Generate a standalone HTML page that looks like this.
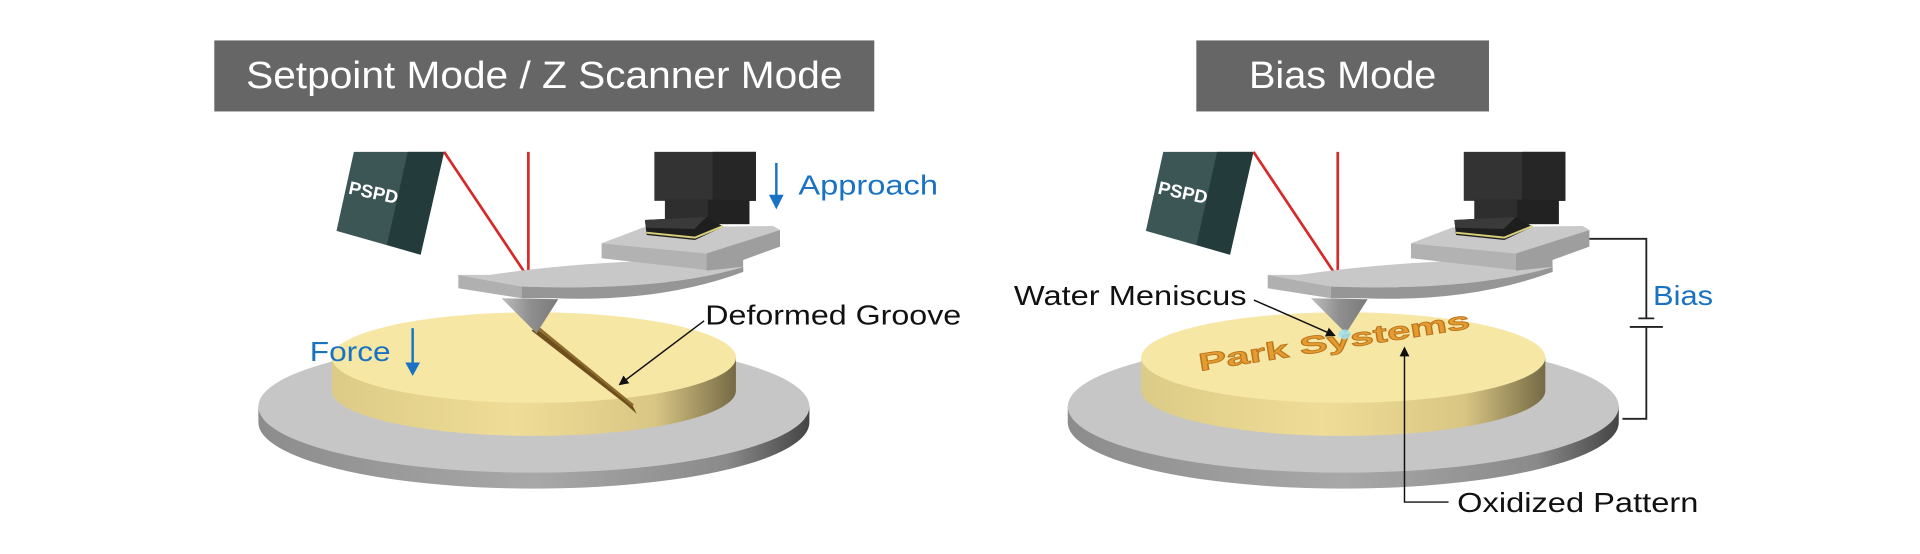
<!DOCTYPE html>
<html><head><meta charset="utf-8"><style>
html,body{margin:0;padding:0;background:#fff;}
svg{display:block;}
text{font-family:"Liberation Sans",sans-serif;}
</style></head><body>
<svg width="1920" height="554" viewBox="0 0 1568 452.4" xmlns="http://www.w3.org/2000/svg">
<defs>
<linearGradient id="ys" x1="0" x2="1" y1="0" y2="0">
<stop offset="0" stop-color="#dccb86"/><stop offset="0.45" stop-color="#efdd97"/><stop offset="0.8" stop-color="#d9c684"/><stop offset="1" stop-color="#756a45"/></linearGradient>
<linearGradient id="gs" x1="0" x2="1" y1="0" y2="0">
<stop offset="0" stop-color="#8c8c8c"/><stop offset="0.5" stop-color="#a8a8a8"/><stop offset="0.85" stop-color="#8a8a8a"/><stop offset="1" stop-color="#444"/></linearGradient>
<linearGradient id="tip" x1="0" x2="1"><stop offset="0" stop-color="#bdbdbd"/><stop offset="0.5" stop-color="#8f8f8f"/><stop offset="1" stop-color="#7a7a7a"/></linearGradient>
<marker id="ah" markerWidth="8" markerHeight="8" refX="7" refY="4" orient="auto" markerUnits="userSpaceOnUse"><path d="M0,0 L8,4 L0,8 Z" fill="#111"/></marker>
<g id="stage">
<path d="M211,332 L211,345 A225,54 0 0 0 661,345 L661,332 Z" fill="url(#gs)"/>
<ellipse cx="436" cy="332" rx="225" ry="54" fill="#c6c6c6"/>
<path d="M271,292 L271,319 A165,37 0 0 0 601,319 L601,292 Z" fill="url(#ys)"/>
<ellipse cx="436" cy="292" rx="165" ry="37" fill="#f6e7a5"/>
</g>
<g id="probe">
<polygon points="289,124 362.7,124 343.5,208 274.8,188.5" fill="#3c5555"/>
<polygon points="333,124 362.7,124 343.5,208 316,200" fill="#233b3b"/>
<text x="0" y="0" transform="translate(284,158) rotate(12)" font-size="15" font-weight="bold" fill="#fff">PSPD</text>
<line x1="362.7" y1="124" x2="431.5" y2="227" stroke="#d62a2a" stroke-width="2.2"/>
<line x1="431.5" y1="124" x2="431.5" y2="227" stroke="#d62a2a" stroke-width="2.2"/>
<!-- cantilever arm -->
<path d="M374.3,224.5 L426,234 Q540,238 607,218 L606,212 Q490,211 400,224.5 Z" fill="#c8c8c8"/>
<path d="M374.3,224.5 L426,234 L426,243.6 L374.3,235.4 Z" fill="#b0b0b0"/>
<path d="M426,234 Q540,238 607,218 L607,222 Q540,247 452,243.6 L426,243.6 Z" fill="#969696"/>
<path d="M409.6,243.6 L455.9,244.4 L438.2,272.1 Z" fill="url(#tip)"/>
<!-- holder plate -->
<path d="M491.3,198.6 L525.4,185.7 L631.5,184.6 L637,187.8 L577,206.9 Z" fill="#c9c9c9"/>
<path d="M491.3,198.6 L577,206.9 L577,220.5 L491.3,210.9 Z" fill="#b2b2b2"/>
<path d="M577,206.9 L637,187.8 L637,201.4 L606.9,212.3 L606.9,217.8 L577,221 Z" fill="#9e9e9e"/>
<!-- holder -->
<rect x="534.4" y="124" width="83" height="40" fill="#333"/>
<rect x="582" y="124" width="35.4" height="40" fill="#262626"/>
<rect x="543" y="163" width="69" height="20" fill="#2e2e2e"/>
<rect x="578" y="163" width="34" height="20" fill="#222"/>
<path d="M526.7,179.7 L577.1,177 L590.7,185.1 L567.6,196 L528.1,191.9 Z" fill="#1e1e1e"/>
<path d="M526.7,179.7 L577.1,177 L567,187 L527.5,186 Z" fill="#3a3a3a"/>
<path d="M528,190 L567.6,194 L590.7,184.5" stroke="#d8cf7a" stroke-width="1.6" fill="none"/>
</g>
</defs>

<rect x="175" y="33" width="539" height="58" fill="#666"/>
<text x="201" y="72" font-size="31" fill="#fff" textLength="487" lengthAdjust="spacingAndGlyphs">Setpoint Mode / Z Scanner Mode</text>
<rect x="977" y="33" width="239" height="58" fill="#666"/>
<text x="1020" y="72" font-size="31" fill="#fff" textLength="153" lengthAdjust="spacingAndGlyphs">Bias Mode</text>

<!-- LEFT -->
<use href="#stage"/>
<path d="M438,268 L516,330 L520,338 L511,330 L434,270 Z" fill="#6e4f1c"/>
<line x1="440" y1="268" x2="517" y2="331" stroke="#8b6a2c" stroke-width="2"/>
<use href="#probe"/>
<text x="253" y="295" font-size="23" fill="#1a73c2" textLength="66" lengthAdjust="spacingAndGlyphs">Force</text>
<line x1="337" y1="268" x2="337" y2="298" stroke="#1a73c2" stroke-width="2"/>
<path d="M331,296 L343,296 L337,307 Z" fill="#1a73c2"/>
<line x1="634" y1="133" x2="634" y2="160" stroke="#1a73c2" stroke-width="2"/>
<path d="M628,159 L640,159 L634,171 Z" fill="#1a73c2"/>
<text x="652" y="159" font-size="23" fill="#1a73c2" textLength="114" lengthAdjust="spacingAndGlyphs">Approach</text>
<text x="576" y="265" font-size="23" fill="#111" textLength="209" lengthAdjust="spacingAndGlyphs">Deformed Groove</text>
<line x1="575" y1="262" x2="506" y2="314" stroke="#111" stroke-width="1.2" marker-end="url(#ah)"/>

<!-- RIGHT -->
<g transform="translate(661,0)"><use href="#stage"/></g>
<text x="0" y="0" transform="translate(980,303) rotate(-9)" font-size="20" font-weight="bold" fill="#e59b2f" stroke="#b8741c" stroke-width="0.7" textLength="224" lengthAdjust="spacingAndGlyphs">Park Systems</text>
<g transform="translate(661,0)"><use href="#probe"/></g>
<ellipse cx="1098" cy="273" rx="5" ry="4" fill="#9fe0f0" opacity="0.85"/>
<polyline points="1298,195 1344.5,195 1344.5,260" fill="none" stroke="#222" stroke-width="1.5"/>
<line x1="1338" y1="260" x2="1351" y2="260" stroke="#222" stroke-width="1.5"/>
<line x1="1331" y1="267" x2="1358" y2="267" stroke="#222" stroke-width="1.5"/>
<polyline points="1344.5,267 1344.5,342 1325,342" fill="none" stroke="#222" stroke-width="1.5"/>
<text x="1350" y="249" font-size="23" fill="#1a73c2" textLength="49" lengthAdjust="spacingAndGlyphs">Bias</text>
<text x="828" y="249" font-size="23" fill="#111" textLength="190" lengthAdjust="spacingAndGlyphs">Water Meniscus</text>
<line x1="1024" y1="245" x2="1090" y2="274" stroke="#111" stroke-width="1.2" marker-end="url(#ah)"/>
<polyline points="1183,410 1147,410 1147,284" fill="none" stroke="#111" stroke-width="1.2" marker-end="url(#ah)"/>
<text x="1190" y="418" font-size="23" fill="#111" textLength="197" lengthAdjust="spacingAndGlyphs">Oxidized Pattern</text>
</svg>
</body></html>
